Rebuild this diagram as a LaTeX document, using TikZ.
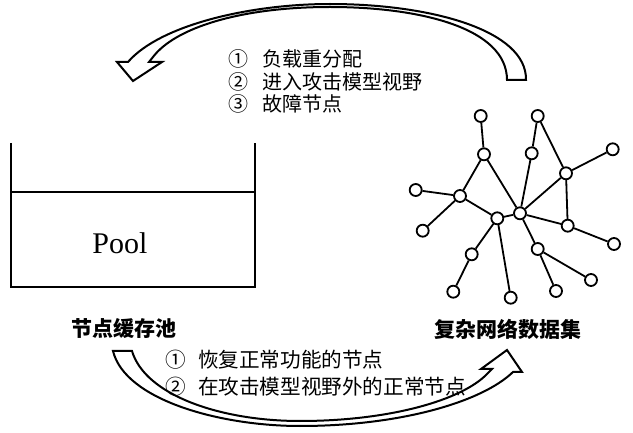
\documentclass[tikz,border=0pt]{standalone}
\usepackage{fontspec}
\setmainfont{Liberation Serif}
\newfontfamily\cjk{Noto Sans CJK SC}
\begin{document}
\begin{tikzpicture}[x=1pt,y=-1pt,
  every node/.style={inner sep=0pt},
  wall/.style={line width=2pt},
  arrowbody/.style={draw=black, fill=white, line width=2pt, line join=miter},
  vtx/.style={circle, draw, fill=white, line width=1.8pt, minimum size=12pt, inner sep=0pt},
  edge/.style={line width=1.8pt},
  txt/.style={font=\cjk\fontsize{20}{23}\selectfont, anchor=west},
  btxt/.style={font=\cjk\fontsize{20.6}{23}\selectfont, anchor=west},
  lbl/.style={font=\cjk\bfseries\fontsize{21}{24}\selectfont}]
\useasboundingbox (0,0) rectangle (633,433);

% pool
\draw[wall] (10.7,143) -- (10.7,287) -- (255,287) -- (255,143);
\draw[wall] (10.7,192) -- (255,192);
\node[font=\fontsize{30}{34}\selectfont] (pool) at (120,243) {Pool};

% labels
\node[lbl] (lblpool) at (124,328) {节点缓存池};
\node[lbl] (lblnet) at (508,329) {复杂网络数据集};

% top arrow
\draw[arrowbody] (526,80) -- (507,80) .. controls (507,28) and (420,7) .. (330,7)
  .. controls (240,7) and (175,28) .. (153,57) -- (149,62) -- (162,62) -- (133,81)
  -- (117,62) -- (128,62) .. controls (160,25) and (250,4) .. (330,4)
  .. controls (430,4) and (527,30) .. (526,80) -- cycle;

% bottom arrow
\draw[arrowbody] (113,351) -- (132,351) .. controls (145,395) and (220,421) .. (300,421)
  .. controls (390,421) and (462,400) .. (487,374) -- (492,369) -- (481,369) -- (507,350)
  -- (522,372) -- (513,372) .. controls (482,402) and (400,426) .. (300,426)
  .. controls (220,426) and (125,400) .. (113,351) -- cycle;

% texts
\node[txt] (t1) at (228,59) {①\hspace{0.72em}负载重分配};
\node[txt] (t2) at (228,82) {②\hspace{0.72em}进入攻击模型视野};
\node[txt] (t3) at (228,104) {③\hspace{0.72em}故障节点};
\node[btxt] (b1) at (165,360) {①\hspace{0.6em}恢复正常功能的节点};
\node[btxt] (b2) at (165,387) {②\hspace{0.6em}在攻击模型视野外的正常节点};

% network
\node[vtx] (n1) at (480.7,116) {};
\node[vtx] (n2) at (537.7,116) {};
\node[vtx] (n3) at (484,154.3) {};
\node[vtx] (n4) at (531.7,153.3) {};
\node[vtx] (n5) at (612.7,149.3) {};
\node[vtx] (n6) at (566,173.3) {};
\node[vtx] (n7) at (415.7,190) {};
\node[vtx] (n8) at (460,196) {};
\node[vtx] (n9) at (520,213.3) {};
\node[vtx] (n10) at (497.3,218.3) {};
\node[vtx] (n11) at (422.7,230.7) {};
\node[vtx] (n12) at (567.7,225.7) {};
\node[vtx] (n13) at (614,244) {};
\node[vtx] (n14) at (537.7,249) {};
\node[vtx] (n15) at (471.7,254.3) {};
\node[vtx] (n16) at (591,280) {};
\node[vtx] (n17) at (453.3,291.7) {};
\node[vtx] (n18) at (510.7,297.7) {};
\node[vtx] (n19) at (556,291) {};

\draw[edge] (n1) -- (n3);
\draw[edge] (n2) -- (n4);
\draw[edge] (n2) -- (n6);
\draw[edge] (n3) -- (n8);
\draw[edge] (n3) -- (n9);
\draw[edge] (n4) -- (n9);
\draw[edge] (n5) -- (n6);
\draw[edge] (n6) -- (n9);
\draw[edge] (n6) -- (n12);
\draw[edge] (n7) -- (n8);
\draw[edge] (n8) -- (n10);
\draw[edge] (n8) -- (n11);
\draw[edge] (n10) -- (n9);
\draw[edge] (n10) -- (n15);
\draw[edge] (n10) -- (n18);
\draw[edge] (n15) -- (n17);
\draw[edge] (n9) -- (n12);
\draw[edge] (n12) -- (n13);
\draw[edge] (n9) -- (n14);
\draw[edge] (n14) -- (n19);
\draw[edge] (n14) -- (n16);
\end{tikzpicture}
\end{document}
